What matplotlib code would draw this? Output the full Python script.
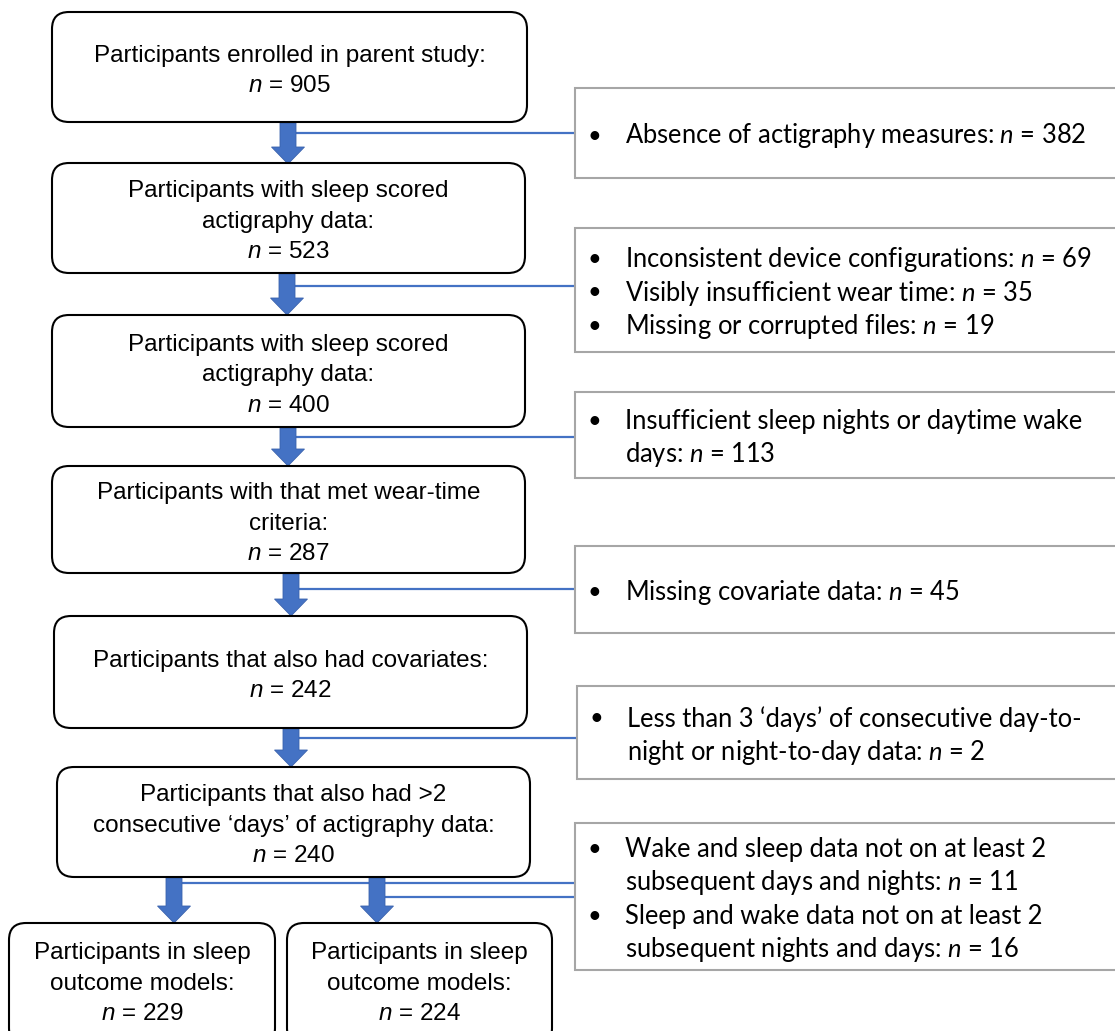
import matplotlib
matplotlib.use("Agg")
from matplotlib import pyplot as plt
from matplotlib import patches

plt.rcParams["mathtext.fontset"] = "custom"
plt.rcParams["mathtext.rm"] = "Liberation Sans"
plt.rcParams["mathtext.it"] = "Liberation Sans:italic"
plt.rcParams["mathtext.sf"] = "Lato:italic"

BLUE = "#4472C4"
GRAY = "#A6A6A6"

# left flow boxes: (x0, y0, x1, y1) in pixels, and their text lines
step_boxes = [
    (52, 12, 527, 122),
    (52, 163, 525, 273),
    (52, 315, 525, 427),
    (52, 466, 525, 573),
    (54, 616, 527, 728),
    (57, 767, 530, 877),
    (9, 923, 275, 1045),
    (287, 923, 552, 1045),
]
step_texts = [
    ["Participants enrolled in parent study:", "$n$ = 905"],
    ["Participants with sleep scored", "actigraphy data:", "$n$ = 523"],
    ["Participants with sleep scored", "actigraphy data:", "$n$ = 400"],
    ["Participants with that met wear-time", "criteria:", "$n$ = 287"],
    ["Participants that also had covariates:", "$n$ = 242"],
    ["Participants that also had >2", "consecutive \u2018days\u2019 of actigraphy data:", "$n$ = 240"],
    ["Participants in sleep", "outcome models:", "$n$ = 229"],
    ["Participants in sleep", "outcome models:", "$n$ = 224"],
]

# right exclusion boxes and their bullet items (each item = list of lines)
excl_boxes = [
    (575, 88, 1125, 178),
    (575, 228, 1125, 352),
    (575, 392, 1125, 478),
    (575, 546, 1125, 633),
    (577, 686, 1125, 779),
    (575, 823, 1125, 970),
]
excl_items = [
    [["Absence of actigraphy measures: $\\mathsf{n}$ = 382"]],
    [["Inconsistent device configurations: $\\mathsf{n}$ = 69"],
     ["Visibly insufficient wear time: $\\mathsf{n}$ = 35"],
     ["Missing or corrupted files: $\\mathsf{n}$ = 19"]],
    [["Insufficient sleep nights or daytime wake", "days: $\\mathsf{n}$ = 113"]],
    [["Missing covariate data: $\\mathsf{n}$ = 45"]],
    [["Less than 3 \u2018days\u2019 of consecutive day-to-", "night or night-to-day data: $\\mathsf{n}$ = 2"]],
    [["Wake and sleep data not on at least 2", "subsequent days and nights: $\\mathsf{n}$ = 11"],
     ["Sleep and wake data not on at least 2", "subsequent nights and days: $\\mathsf{n}$ = 16"]],
]

# arrows: centre x, top y, tip y, y of the branch line to the exclusion box
arrows = [
    (288, 123, 164, 133),
    (287, 274, 315, 286),
    (288, 428, 466, 437),
    (291, 574, 616, 589),
    (291, 729, 767, 738),
    (174, 878, 923, 883),
    (377, 878, 923, 897),
]


def main():
    fig = plt.figure(figsize=(11.15, 10.31), dpi=100)
    ax = fig.add_axes([0, 0, 1, 1])
    ax.set_xlim(0, 1115)
    ax.set_ylim(1031, 0)
    ax.axis("off")

    for (x0, y0, x1, y1), lines in zip(step_boxes, step_texts):
        box = patches.FancyBboxPatch((x0, y0), x1 - x0, y1 - y0,
                                     boxstyle="round,pad=0,rounding_size=17",
                                     fc="white", ec="black", lw=1.5, zorder=3)
        ax.add_patch(box)
        cx = (x0 + x1) / 2
        sp = 30.5
        if y1 > 1031:
            # bottom boxes run off the page edge
            start = 953
        else:
            start = (y0 + y1) / 2 - sp * (len(lines) - 1) / 2 + 4
        for i, t in enumerate(lines):
            ax.text(cx, start + i * sp, t, ha="center", va="center",
                    fontsize=17.5, family="Liberation Sans", zorder=4)

    for (x0, y0, x1, y1), items in zip(excl_boxes, excl_items):
        ax.add_patch(patches.Rectangle((x0, y0), x1 - x0, y1 - y0,
                                       fc="white", ec=GRAY, lw=1.5, zorder=3))
        lines = []
        for item in items:
            for j, t in enumerate(item):
                lines.append((j == 0, t))
        sp = 33.5
        start = (y0 + y1) / 2 - sp * (len(lines) - 1) / 2 + 3
        for i, (bullet, t) in enumerate(lines):
            y = start + i * sp
            if bullet:
                ax.text(x0 + 19, y, "\u2022", ha="center", va="center",
                        fontsize=17, family="Lato", zorder=4)
            ax.text(x0 + 50, y, t, ha="left", va="center",
                    fontsize=18.4, family="Lato", zorder=4)

    for cx, ytop, ytip, yline in arrows:
        ax.plot([cx, 575], [yline, yline], color=BLUE, lw=1.6, zorder=1)
        arr = patches.FancyArrow(cx, ytop, 0, ytip - ytop, width=16,
                                 head_width=33, head_length=17,
                                 length_includes_head=True,
                                 fc=BLUE, ec="#3A62AD", lw=0.6, zorder=2)
        ax.add_patch(arr)

    fig.savefig("out.png", dpi=100)


if __name__ == "__main__":
    main()
